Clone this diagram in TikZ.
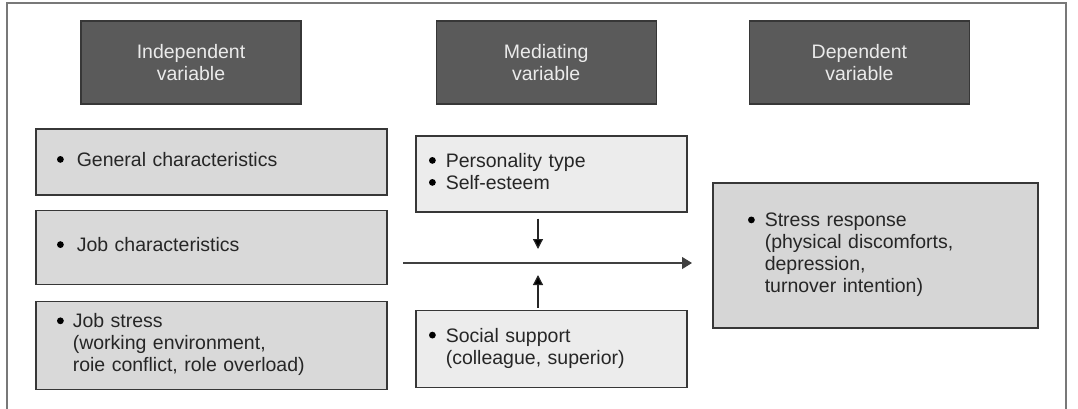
\documentclass[tikz,border=0pt]{standalone}
\usepackage{fontspec}
\setmainfont{Liberation Sans}
\usetikzlibrary{positioning, arrows.meta}
\definecolor{headgray}{RGB}{90,90,90}
\definecolor{factorgray}{RGB}{217,217,217}
\definecolor{mediatorgray}{RGB}{236,236,236}
\definecolor{outcomegray}{RGB}{214,214,214}
\definecolor{edgegray}{RGB}{55,55,55}
\definecolor{framegray}{RGB}{120,120,120}

\newcommand{\blt}{\tikz[x=1pt, y=1pt, baseline=-3.5pt]{\fill[black] (0,0) circle (1.7);}}
\newcommand{\bitem}[2]{\begin{tabular}{@{}l@{\hspace{#1}}l@{}}\blt & #2\end{tabular}}

\begin{document}
\begin{tikzpicture}[
    x=0.5pt, y=-0.5pt,
    every node/.style={font=\fontsize{9.75pt}{11pt}\selectfont, text=black!85},
    header/.style={rectangle, minimum width=110pt, minimum height=41.5pt, draw=edgegray, line width=0.6pt, fill=headgray, text=white!92!black, align=center},
    factor/.style={rectangle, text width=154.5pt, inner xsep=10.5pt, align=left, draw=edgegray, line width=0.6pt, fill=factorgray},
    mediator/.style={rectangle, text width=122.5pt, inner xsep=6.5pt, align=left, draw=edgegray, line width=0.6pt, fill=mediatorgray},
    outcome/.style={rectangle, text width=127.5pt, inner xsep=17.5pt, minimum height=72.5pt, align=left, draw=edgegray, line width=0.6pt, fill=outcomegray},
    flow/.style={-{Triangle[length=5pt,width=6pt]}, line width=0.6pt, draw=black!75},
    effect/.style={-{Triangle[length=5pt,width=5pt]}, line width=0.6pt, draw=black!85}
]

\useasboundingbox (0,0) rectangle (1078,408);
\draw[framegray, line width=0.6pt] (7,412) -- (7,3) -- (1066,3) -- (1066,412);

% headers
\node[header] (indep) at (191,62.5) {Independent\\variable};
\node[header, right=67pt of indep] (mediat) {Mediating\\variable};
\node[header, right=46pt of mediat] (depend) {Dependent\\variable};

% independent variables
\node[factor, minimum height=33pt] (general) at (211.5,162) {\bitem{6.5pt}{General characteristics}};
\node[factor, minimum height=37pt, below=7pt of general] (jobchar) {\bitem{6.5pt}{Job characteristics}};
\node[factor, minimum height=44pt, below=8pt of jobchar] (jobstress) {\bitem{4.5pt}{Job stress\\ & (working environment,\\ & roie conflict, role overload)}};

% mediating variables
\node[mediator, minimum height=38pt] (personality) at (551.5,174) {\bitem{5pt}{Personality type\\ \blt & Self-esteem}};
\node[mediator, minimum height=38.5pt, below=48.5pt of personality] (support) {\bitem{5pt}{Social support\\ & (colleague, superior)}};

% dependent variable
\node[outcome] (response) at (875.5,255.5) {\bitem{5pt}{Stress response\\ & (physical discomforts,\\ & depression,\\ & turnover intention)}};

\coordinate (flowin) at (403,263);
\coordinate (flowout) at (692,263);
\coordinate (cross) at (538,263);

\draw[flow] (flowin) -- (flowout);
\draw[effect, shorten <=3pt, shorten >=7pt] (personality.south -| cross) -- (cross);
\draw[effect, shorten <=1pt, shorten >=6pt] (support.north -| cross) -- (cross);

\end{tikzpicture}
\end{document}
